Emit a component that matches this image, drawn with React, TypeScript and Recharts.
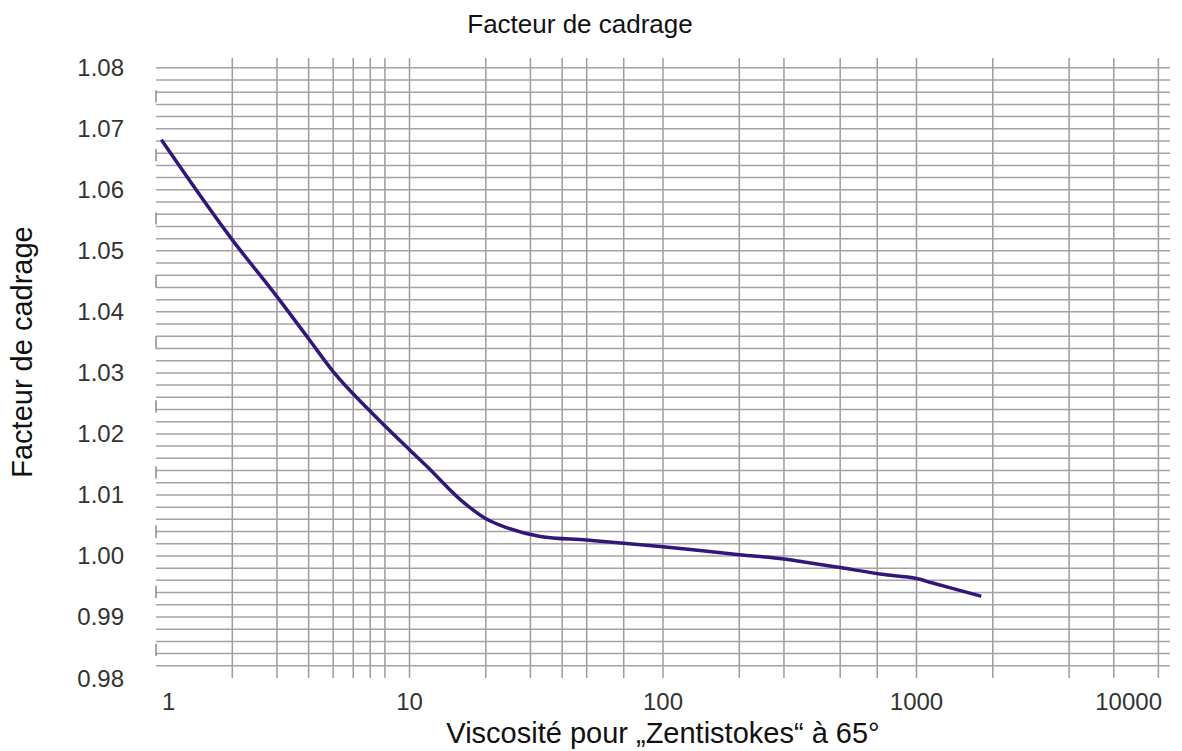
import React from "react";
import { LineChart, Line, XAxis, YAxis, CartesianGrid, ReferenceLine } from "recharts";

const viscosity = [1.05, 2, 3, 4, 5, 7, 10, 11.7, 15.9, 20.2, 24.3, 32.8, 50, 70, 100, 140, 200, 300, 350, 500, 730, 1000, 1150, 1350, 1800];
const factor = [1.0682, 1.0518, 1.0425, 1.0356, 1.0302, 1.0237, 1.0174, 1.0147, 1.0092, 1.006, 1.0046, 1.0032, 1.0026, 1.0021, 1.0015, 1.0009, 1.0002, 0.9995, 0.9991, 0.9981, 0.997, 0.9963, 0.9956, 0.9948, 0.9934];

const xTicks = [1, 10, 100, 1000, 10000];
const yTicks = [0.98, 0.99, 1.0, 1.01, 1.02, 1.03, 1.04, 1.05, 1.06, 1.07, 1.08];
const xGrid = [2, 3, 4, 5, 6, 7, 8, 9, 10, 20, 30, 40, 50, 60, 70, 80, 90, 100, 200, 300, 400, 500, 600, 700, 800, 900, 1000, 2000, 3000, 4000, 5000, 6000, 7000, 8000, 9000];
// horizontal rules every 0.002 from 1.08 down to 0.982
const yGrid = Array.from({ length: 50 }, (_, k) => +(1.08 - k * 0.002).toFixed(3));
// little marks left on the y axis line
const stubs = [1.0753, 1.0657, 1.0553, 1.045, 1.035, 1.0245, 1.0137, 1.004, 0.9941, 0.9846];

const data = viscosity.map((v, i) => ({ v, f: factor[i] }));

const font = '"Liberation Sans", Arial, Helvetica, sans-serif';

const XTick = (props: any) => {
  const { x, y, payload } = props;
  const val = payload.value;
  const anchor = val === 1 ? "start" : val === 10000 ? "end" : "middle";
  return (
    <text x={x} y={y} dy={32} dx={val === 1 ? 6 : 0} textAnchor={anchor} fontSize={24} fill="#333" fontFamily={font}>
      {val}
    </text>
  );
};

export default function App() {
  return (
    <div style={{ position: "fixed", left: 0, top: 0, width: 1182, height: 751, background: "#fff", fontFamily: font }}>
      <div style={{ position: "absolute", left: 380, top: 11, width: 400, textAlign: "center", fontSize: 26, lineHeight: "26px", color: "#111" }}>
        Facteur de cadrage
      </div>
      <div
        style={{
          position: "absolute", left: 22 - 150, top: 352 - 15, width: 300, height: 30,
          lineHeight: "30px", fontSize: 29, textAlign: "center", color: "#111",
          transform: "rotate(-90deg)", whiteSpace: "nowrap",
        }}
      >
        Facteur de cadrage
      </div>
      <LineChart width={1182} height={751} data={data} margin={{ top: 58, right: 12, left: 0, bottom: 0 }}>
        <CartesianGrid stroke="#9c9c9c" strokeWidth={1.5} horizontal={false} verticalValues={xGrid} />
        <XAxis
          dataKey="v" type="number" scale="log" domain={[1, 10000]} allowDataOverflow
          ticks={xTicks} tick={<XTick />} tickLine={false} axisLine={false} tickSize={0} tickMargin={0} height={73}
          label={{ value: "Viscosité pour „Zentistokes“ à 65°", position: "insideBottom", offset: 8, fontSize: 29, fill: "#111", fontFamily: font }}
        />
        <YAxis
          type="number" domain={[0.98, 1.0816]} allowDataOverflow ticks={yTicks} width={156}
          tickFormatter={(v: number) => v.toFixed(2)} tickLine={false} axisLine={false} tickSize={0} tickMargin={32}
          tick={{ fontSize: 24, fill: "#333", fontFamily: font }}
        />
        {yGrid.map((g) => (
          <ReferenceLine key={"h" + g} y={g} stroke="#a3a3a3" strokeWidth={1.5} />
        ))}
        {stubs.map((s) => (
          <ReferenceLine key={s} segment={[{ x: 1, y: s - 0.001 }, { x: 1, y: s + 0.001 }]} stroke="#8a8a8a" strokeWidth={1.5} />
        ))}
        <Line type="monotone" dataKey="f" stroke="#33167a" strokeWidth={3.5} dot={false} isAnimationActive={false} />
      </LineChart>
    </div>
  );
}
